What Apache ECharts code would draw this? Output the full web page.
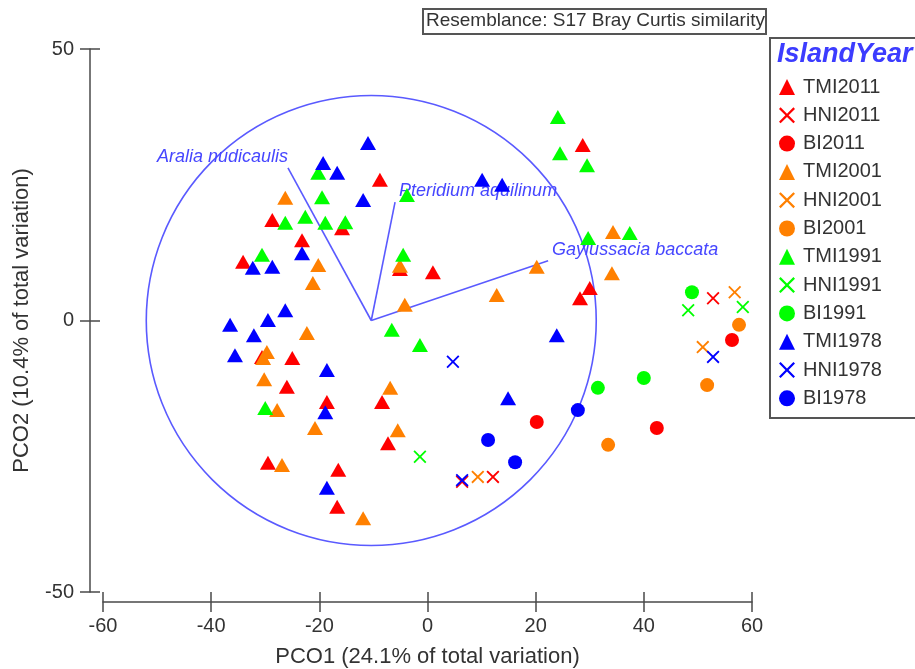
<!DOCTYPE html>
<html>
<head>
<meta charset="utf-8">
<script src="https://cdn.jsdelivr.net/npm/echarts@6/dist/echarts.min.js"></script>
<style>
html, body { margin: 0; padding: 0; background: #fff; }
#chart { width: 915px; height: 669px; }
</style>
</head>
<body>
<div id="chart"></div>
<script>
// PCO of island plots (Bray Curtis), with a vector overlay of three species.

const groupNames = ['TMI2011', 'HNI2011', 'BI2011', 'TMI2001', 'HNI2001', 'BI2001',
                    'TMI1991', 'HNI1991', 'BI1991', 'TMI1978', 'HNI1978', 'BI1978'];

const tmi2011 = [[-34.1, 10.8], [-28.7, 18.5], [-23.2, 14.8], [-15.8, 17.0], [-8.8, 25.9], [28.7, 32.3],
                 [1.0, 8.9], [-5.1, 9.5], [30.0, 6.0], [28.2, 4.1], [-8.4, -15.0], [-18.6, -15.0],
                 [-7.3, -22.6], [-16.5, -27.5], [-16.7, -34.3], [-30.6, -6.7], [-25.0, -6.9],
                 [-26.0, -12.2], [-29.5, -26.2]];
const hni2011 = [[52.8, 4.1], [12.1, -28.8], [6.4, -29.7]];
const bi2011 = [[20.2, -18.7], [42.4, -19.8], [56.3, -3.6]];

const tmi2001 = [[-26.3, 22.6], [-20.2, 10.2], [-21.2, 6.9], [-5.1, 10.1], [-4.2, 2.9], [20.2, 9.9],
                 [12.8, 4.7], [34.3, 16.3], [34.1, 8.7], [-22.3, -2.3], [-6.9, -12.4], [-20.8, -19.8],
                 [-5.5, -20.2], [-11.9, -36.4], [-29.7, -5.8], [-30.4, -6.9], [-30.2, -10.8],
                 [-27.8, -16.5], [-26.9, -26.6]];
const hni2001 = [[9.3, -28.8], [56.8, 5.2], [50.9, -4.9]];
const bi2001 = [[33.4, -22.9], [57.6, -0.8], [51.7, -11.9]];

const tmi1991 = [[24.1, 37.5], [24.5, 30.8], [29.5, 28.6], [-3.8, 23.1], [-20.2, 27.2], [-19.5, 22.7],
                 [-22.6, 19.1], [-18.9, 18.0], [-15.2, 18.1], [-26.3, 18.0], [-30.6, 12.1], [-4.5, 12.1],
                 [29.7, 15.2], [37.4, 16.1], [-6.6, -1.7], [-1.4, -4.5], [-30.0, -16.1]];
const hni1991 = [[-1.4, -25.1], [48.2, 1.9], [58.3, 2.5]];
const bi1991 = [[31.5, -12.4], [40.0, -10.6], [48.9, 5.2]];

const tmi1978 = [[-11.0, 32.7], [-19.3, 29.0], [-16.7, 27.2], [10.1, 25.9], [13.8, 25.0], [-11.9, 22.2],
                 [-23.2, 12.4], [-32.3, 9.7], [-28.7, 9.9], [-26.3, 1.9], [-29.5, 0.1], [-36.5, -0.8],
                 [-32.1, -2.7], [-35.6, -6.4], [-18.6, -9.1], [-18.9, -16.9], [23.9, -2.7],
                 [14.9, -14.3], [-18.6, -30.8]];
const hni1978 = [[4.7, -7.6], [6.4, -29.4], [52.8, -6.7]];
const bi1978 = [[11.2, -22.0], [16.2, -26.1], [27.8, -16.5]];

const groupPoints = [tmi2011, hni2011, bi2011, tmi2001, hni2001, bi2001,
                     tmi1991, hni1991, bi1991, tmi1978, hni1978, bi1978];

// vector overlay
const vectorNames = ['Aralia nudicaulis', 'Pteridium aquilinum', 'Gaylussacia baccata'];
const vectorEndX = [-25.8, -6.0, 22.3];
const vectorEndY = [28.1, 21.8, 11.0];
const circleCenter = [-10.4, 0];
const circleRadius = 41.6;

const FONT = '"Liberation Sans", Arial, sans-serif';
const TEXT = '#333';
const AXIS = '#4a4a4a';
const VEC = '#5a5aff';

const yearColor = { '2011': '#ff0000', '2001': '#ff8000', '1991': '#00ff00', '1978': '#0000ff' };
const CROSS = 'path://M2 0L10 8L18 0L20 2L12 10L20 18L18 20L10 12L2 20L0 18L8 10L0 2Z';

function symbolFor(name) {
    if (name.startsWith('TMI')) return { symbol: 'triangle', size: [16, 14] };
    if (name.startsWith('HNI')) return { symbol: CROSS, size: 13 };
    return { symbol: 'circle', size: 14 };
}

const chart = echarts.init(document.getElementById('chart'));

const overlaySeries = [
    {
        type: 'custom',
        coordinateSystem: 'cartesian2d',
        silent: true,
        z: 1,
        data: [circleCenter],
        renderItem: (params, api) => {
            const c = api.coord(circleCenter);
            const e = api.coord([circleCenter[0] + circleRadius, circleCenter[1]]);
            return {
                type: 'circle',
                shape: { cx: c[0], cy: c[1], r: e[0] - c[0] },
                style: { fill: 'none', stroke: VEC, lineWidth: 1.6 },
            };
        },
    },
    {
        type: 'custom',
        coordinateSystem: 'cartesian2d',
        silent: true,
        z: 1,
        data: vectorEndX.map((x, i) => [x, vectorEndY[i], i]),
        renderItem: (params, api) => {
            const o = api.coord(circleCenter);
            const p = api.coord([api.value(0), api.value(1)]);
            const leftSide = api.value(0) < circleCenter[0];
            return {
                type: 'group',
                children: [
                    {
                        type: 'line',
                        shape: { x1: o[0], y1: o[1], x2: p[0], y2: p[1] },
                        style: { stroke: VEC, lineWidth: 1.6 },
                    },
                    {
                        type: 'text',
                        x: p[0] + (leftSide ? 0 : 4),
                        y: p[1] - 2,
                        style: {
                            text: vectorNames[api.value(2)],
                            fill: '#4646ff',
                            font: 'italic 18px ' + FONT,
                            align: leftSide ? 'right' : 'left',
                            verticalAlign: 'bottom',
                        },
                    },
                ],
            };
        },
    },
];

const pointSeries = groupNames.map((name, i) => {
    const s = symbolFor(name);
    return {
        name,
        type: 'scatter',
        data: groupPoints[i],
        symbol: s.symbol,
        symbolSize: s.size,
        itemStyle: { color: yearColor[name.slice(-4)], opacity: 1 },
        z: 2,
    };
});

chart.setOption({
    animation: false,
    backgroundColor: '#fff',
    grid: { left: 103, right: 163, top: 49, bottom: 77, containLabel: false, outerBoundsMode: 'none' },
    xAxis: [
        {
            type: 'value', min: -60, max: 60, interval: 20, offset: 10, position: 'bottom',
            axisLine: { onZero: false, lineStyle: { color: AXIS, width: 1.5 } },
            axisTick: { length: 10, lineStyle: { color: AXIS, width: 1.5 } },
            axisLabel: { color: TEXT, fontSize: 20, fontFamily: FONT, margin: 14 },
            splitLine: { show: false },
            name: 'PCO1 (24.1% of total variation)',
            nameLocation: 'middle', nameGap: 44,
            nameTextStyle: { color: TEXT, fontSize: 22, fontFamily: FONT },
        },
        {
            type: 'value', min: -60, max: 60, interval: 20, offset: 10, position: 'bottom',
            axisLine: { show: false, onZero: false },
            axisTick: { inside: true, length: 10, lineStyle: { color: AXIS, width: 1.5 } },
            axisLabel: { show: false },
            splitLine: { show: false },
        },
    ],
    yAxis: [
        {
            type: 'value', min: -50, max: 50, interval: 50, offset: 13, position: 'left',
            axisLine: { show: true, onZero: false, lineStyle: { color: AXIS, width: 1.5 } },
            axisTick: { show: true, length: 10, lineStyle: { color: AXIS, width: 1.5 } },
            axisLabel: { color: TEXT, fontSize: 20, fontFamily: FONT, margin: 16 },
            splitLine: { show: false },
            name: 'PCO2 (10.4% of total variation)',
            nameLocation: 'middle', nameGap: 57,
            nameTextStyle: { color: TEXT, fontSize: 22, fontFamily: FONT },
        },
        {
            type: 'value', min: -50, max: 50, interval: 50, offset: 13, position: 'left',
            axisLine: { show: false, onZero: false },
            axisTick: { show: true, inside: true, length: 10, lineStyle: { color: AXIS, width: 1.5 } },
            axisLabel: { show: false },
            splitLine: { show: false },
        },
    ],
    legend: {
        orient: 'vertical',
        left: 774,
        top: 72,
        itemWidth: 16,
        itemHeight: 16,
        itemGap: 8.3,
        selectedMode: false,
        data: groupNames,
        textStyle: { color: TEXT, fontSize: 20, fontFamily: FONT, padding: [0, 0, 0, 3] },
    },
    graphic: [
        {
            type: 'rect', left: 422, top: 8, z: 10,
            shape: { width: 343, height: 25 },
            style: { fill: '#fff', stroke: '#555', lineWidth: 2 },
        },
        {
            type: 'text', x: 426, y: 21, z: 11,
            style: {
                text: 'Resemblance: S17 Bray Curtis similarity',
                font: '19px ' + FONT, fill: TEXT, verticalAlign: 'middle',
            },
        },
        {
            type: 'rect', x: 770, y: 38, z: 0,
            shape: { width: 160, height: 380 },
            style: { fill: 'none', stroke: '#555', lineWidth: 2 },
        },
        {
            type: 'text', x: 777, y: 55, z: 11,
            style: {
                text: 'IslandYear',
                font: 'italic bold 27px ' + FONT, fill: '#3c3cff', verticalAlign: 'middle',
            },
        },
    ],
    series: overlaySeries.concat(pointSeries),
});
</script>
</body>
</html>
